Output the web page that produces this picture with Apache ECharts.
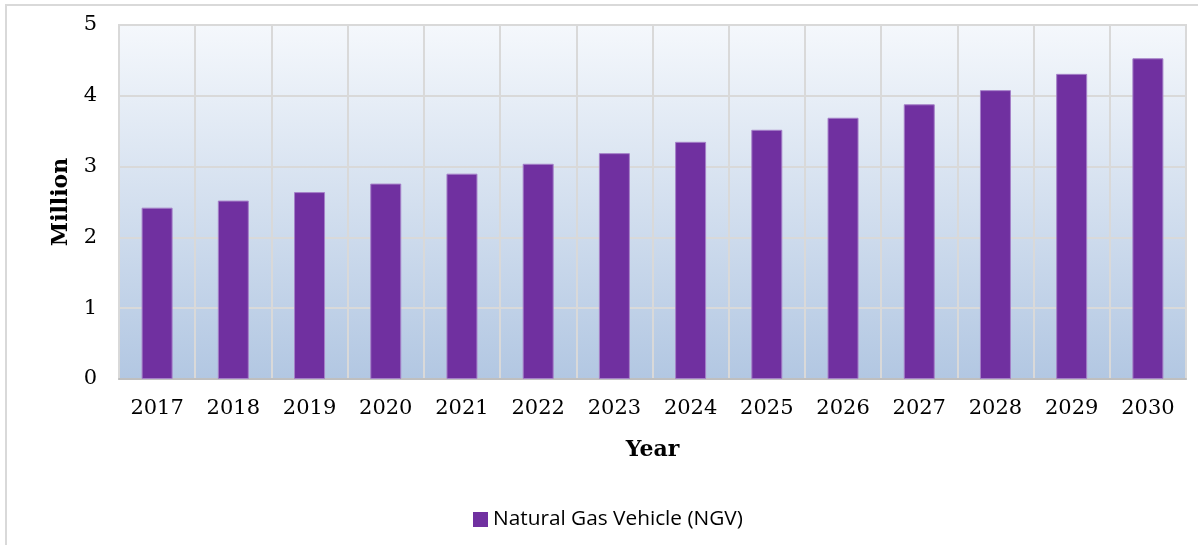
<!DOCTYPE html>
<html>
<head>
<meta charset="utf-8">
<script src="https://cdn.jsdelivr.net/npm/echarts@6/dist/echarts.min.js"></script>
<style>
  html, body { margin: 0; padding: 0; background: #fff; }
  #chart { width: 1198px; height: 545px; }
</style>
</head>
<body>
<div id="chart"></div>
<script>
const years = ['2017', '2018', '2019', '2020', '2021', '2022', '2023', '2024', '2025', '2026', '2027', '2028', '2029', '2030'];
const ngvValues = [2.42, 2.52, 2.64, 2.76, 2.90, 3.04, 3.19, 3.35, 3.52, 3.69, 3.88, 4.08, 4.31, 4.53];
const seriesName = 'Natural Gas Vehicle (NGV)';

const serif = '"DejaVu Serif", "Liberation Serif", serif';

const chart = echarts.init(document.getElementById('chart'));

chart.setOption({
  backgroundColor: '#fff',
  animation: false,
  graphic: [{
    type: 'rect',
    shape: { x: 6, y: 5, width: 1400, height: 800 },
    style: { fill: 'none', stroke: '#d9d9d9', lineWidth: 2 },
    silent: true
  }],
  grid: {
    left: 119,
    right: 12,
    top: 25,
    bottom: 166,
    show: true,
    borderColor: '#d9d9d9',
    borderWidth: 2,
    backgroundColor: new echarts.graphic.LinearGradient(0, 0, 0, 1, [
      { offset: 0, color: '#f5f8fc' },
      { offset: 1, color: '#b2c7e2' }
    ])
  },
  legend: {
    data: [seriesName],
    left: 468,
    top: 504,
    itemWidth: 15,
    itemHeight: 15,
    itemGap: 6,
    icon: 'rect',
    itemStyle: { borderWidth: 0 },
    textStyle: { fontFamily: '"Open Sans", sans-serif', fontSize: 20.8, color: '#000' }
  },
  xAxis: {
    type: 'category',
    data: years,
    name: 'Year',
    nameLocation: 'middle',
    nameGap: 60,
    nameTextStyle: { fontFamily: serif, fontWeight: 'bold', fontSize: 22, color: '#000' },
    axisLine: { show: true, lineStyle: { color: '#bfbfbf', width: 2 } },
    axisTick: { show: false },
    axisLabel: { margin: 19, fontFamily: serif, fontSize: 21, color: '#000' },
    splitLine: { show: true, lineStyle: { color: '#d9d9d9', width: 2 } }
  },
  yAxis: {
    type: 'value',
    min: 0,
    max: 5,
    interval: 1,
    name: 'Million',
    nameLocation: 'middle',
    nameGap: 43,
    nameTextStyle: { fontFamily: serif, fontWeight: 'bold', fontSize: 22, color: '#000' },
    axisLine: { show: false },
    axisTick: { show: false },
    axisLabel: { margin: 22, fontFamily: serif, fontSize: 21, color: '#000' },
    splitLine: { show: true, lineStyle: { color: '#d9d9d9', width: 2 } }
  },
  series: [{
    name: seriesName,
    type: 'bar',
    data: ngvValues,
    barWidth: 31,
    itemStyle: { color: '#7030a0', borderColor: '#a580c8', borderWidth: 1 }
  }]
});
</script>
</body>
</html>
